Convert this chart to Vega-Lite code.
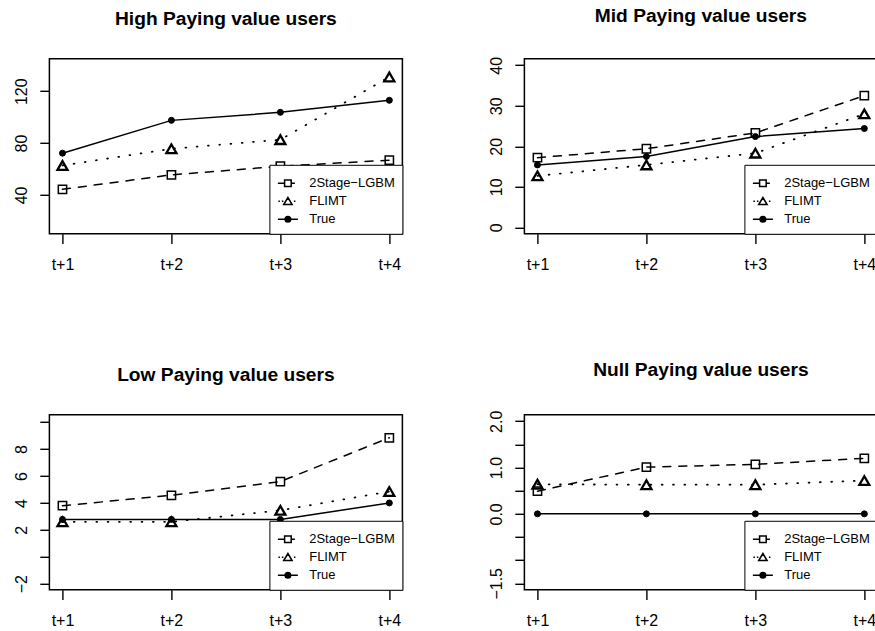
{
  "$schema": "https://vega.github.io/schema/vega-lite/v6.json",
  "background": "white",
  "autosize": {"type": "pad"},
  "padding": {"left": 11.4, "top": 5.8, "right": 0, "bottom": 0},
  "config": {
    "view": {"stroke": "black", "strokeWidth": 1.5},
    "font": "Liberation Sans",
    "title": {"font": "Liberation Sans", "fontSize": 19.2, "fontWeight": "bold", "color": "black", "anchor": "middle", "frame": "group", "baseline": "alphabetic", "offset": 29.7},
    "axis": {"domain": false, "grid": false, "ticks": true, "tickColor": "black", "tickWidth": 1.4, "tickSize": 9.6, "labelFont": "Liberation Sans", "labelFontSize": 16, "labelColor": "black", "title": null, "labelOverlap": false, "labelFlush": false},
    "legend": {
      "orient": "bottom-right", "offset": 0, "strokeColor": "black", "fillColor": "white", "padding": 7.5,
      "labelFont": "Liberation Sans", "labelFontSize": 13, "labelColor": "black", "labelOffset": 10.3,
      "rowPadding": -2.8, "symbolSize": 400, "symbolStrokeColor": "black", "symbolStrokeWidth": 1.5, "symbolOpacity": 1,
      "cornerRadius": 0
    }
  },
  "data": {"values": [
    {"panel": "High", "series": "2Stage−LGBM", "step": "t+1", "value": 44.3},
    {"panel": "High", "series": "2Stage−LGBM", "step": "t+2", "value": 55.5},
    {"panel": "High", "series": "2Stage−LGBM", "step": "t+3", "value": 62.1},
    {"panel": "High", "series": "2Stage−LGBM", "step": "t+4", "value": 66.8},
    {"panel": "High", "series": "FLIMT", "step": "t+1", "value": 62.7},
    {"panel": "High", "series": "FLIMT", "step": "t+2", "value": 75.6},
    {"panel": "High", "series": "FLIMT", "step": "t+3", "value": 82.6},
    {"panel": "High", "series": "FLIMT", "step": "t+4", "value": 131.0},
    {"panel": "High", "series": "True", "step": "t+1", "value": 72.2},
    {"panel": "High", "series": "True", "step": "t+2", "value": 97.5},
    {"panel": "High", "series": "True", "step": "t+3", "value": 103.7},
    {"panel": "High", "series": "True", "step": "t+4", "value": 113.0},
    {"panel": "Mid", "series": "2Stage−LGBM", "step": "t+1", "value": 17.2},
    {"panel": "Mid", "series": "2Stage−LGBM", "step": "t+2", "value": 19.4},
    {"panel": "Mid", "series": "2Stage−LGBM", "step": "t+3", "value": 23.3},
    {"panel": "Mid", "series": "2Stage−LGBM", "step": "t+4", "value": 32.5},
    {"panel": "Mid", "series": "FLIMT", "step": "t+1", "value": 12.7},
    {"panel": "Mid", "series": "FLIMT", "step": "t+2", "value": 15.4},
    {"panel": "Mid", "series": "FLIMT", "step": "t+3", "value": 18.3},
    {"panel": "Mid", "series": "FLIMT", "step": "t+4", "value": 28.0},
    {"panel": "Mid", "series": "True", "step": "t+1", "value": 15.4},
    {"panel": "Mid", "series": "True", "step": "t+2", "value": 17.5},
    {"panel": "Mid", "series": "True", "step": "t+3", "value": 22.4},
    {"panel": "Mid", "series": "True", "step": "t+4", "value": 24.4},
    {"panel": "Low", "series": "2Stage−LGBM", "step": "t+1", "value": 3.8},
    {"panel": "Low", "series": "2Stage−LGBM", "step": "t+2", "value": 4.57},
    {"panel": "Low", "series": "2Stage−LGBM", "step": "t+3", "value": 5.59},
    {"panel": "Low", "series": "2Stage−LGBM", "step": "t+4", "value": 8.84},
    {"panel": "Low", "series": "FLIMT", "step": "t+1", "value": 2.6},
    {"panel": "Low", "series": "FLIMT", "step": "t+2", "value": 2.6},
    {"panel": "Low", "series": "FLIMT", "step": "t+3", "value": 3.45},
    {"panel": "Low", "series": "FLIMT", "step": "t+4", "value": 4.85},
    {"panel": "Low", "series": "True", "step": "t+1", "value": 2.78},
    {"panel": "Low", "series": "True", "step": "t+2", "value": 2.78},
    {"panel": "Low", "series": "True", "step": "t+3", "value": 2.78},
    {"panel": "Low", "series": "True", "step": "t+4", "value": 4.0},
    {"panel": "Null", "series": "2Stage−LGBM", "step": "t+1", "value": 0.49},
    {"panel": "Null", "series": "2Stage−LGBM", "step": "t+2", "value": 1.01},
    {"panel": "Null", "series": "2Stage−LGBM", "step": "t+3", "value": 1.07},
    {"panel": "Null", "series": "2Stage−LGBM", "step": "t+4", "value": 1.2},
    {"panel": "Null", "series": "FLIMT", "step": "t+1", "value": 0.64},
    {"panel": "Null", "series": "FLIMT", "step": "t+2", "value": 0.63},
    {"panel": "Null", "series": "FLIMT", "step": "t+3", "value": 0.63},
    {"panel": "Null", "series": "FLIMT", "step": "t+4", "value": 0.72},
    {"panel": "Null", "series": "True", "step": "t+1", "value": 0},
    {"panel": "Null", "series": "True", "step": "t+2", "value": 0},
    {"panel": "Null", "series": "True", "step": "t+3", "value": 0},
    {"panel": "Null", "series": "True", "step": "t+4", "value": 0}
  ]},
  "columns": 2,
  "spacing": {"row": 181, "column": 122},
  "bounds": "flush",
  "resolve": {
    "scale": {"x": "independent", "y": "independent", "shape": "independent", "fill": "independent", "stroke": "independent"},
    "legend": {"shape": "independent", "fill": "independent", "stroke": "independent"},
    "axis": {"x": "independent", "y": "independent"}
  },
  "concat": [
    {
      "title": "High Paying value users",
      "width": 353, "height": 175,
      "transform": [{"filter": "datum.panel === 'High'"}],
      "encoding": {
        "x": {"field": "step", "type": "ordinal", "scale": {"type": "point", "padding": 0.12}, "axis": {"labelAngle": 0, "labelPadding": 13}},
        "y": {"field": "value", "type": "quantitative", "scale": {"domain": [10, 145], "zero": false, "nice": false}, "axis": {"values": [40, 80, 120], "labelAngle": 270, "labelAlign": "center", "labelBaseline": "bottom", "labelPadding": 10.7}}
      },
      "layer": [
        {"transform": [{"filter": "datum.series === '2Stage−LGBM'"}], "mark": {"type": "line", "stroke": "black", "strokeWidth": 1.5, "strokeCap": "round", "strokeDash": [8, 8]}, "encoding": {}},
        {"transform": [{"filter": "datum.series === 'FLIMT'"}], "mark": {"type": "line", "stroke": "black", "strokeWidth": 1.8, "strokeCap": "round", "strokeDash": [0.8, 10.5]}, "encoding": {}},
        {"transform": [{"filter": "datum.series === 'True'"}], "mark": {"type": "line", "stroke": "black", "strokeWidth": 1.5}, "encoding": {}},
        {"transform": [{"filter": "datum.series === '2Stage−LGBM'"}], "mark": {"type": "point", "shape": "square", "size": 69, "filled": false, "stroke": "black", "strokeWidth": 1.5, "opacity": 1}},
        {"transform": [{"filter": "datum.series === 'FLIMT'"}], "mark": {"type": "point", "shape": "triangle-up", "size": 100, "filled": false, "stroke": "black", "strokeWidth": 2.3, "opacity": 1}},
        {"transform": [{"filter": "datum.series === 'True'"}], "mark": {"type": "point", "shape": "circle", "size": 36, "filled": true, "fill": "black", "stroke": "black", "strokeWidth": 1, "opacity": 1}},
        {"transform": [{"filter": "false"}], "mark": {"type": "point", "strokeWidth": 1.5},
         "encoding": {
           "shape": {"field": "series", "type": "nominal", "legend": {"title": null}, "scale": {"domain": ["2Stage−LGBM", "FLIMT", "True"], "range": ["M-1,0H-0.33M0.33,0H0.7M-0.33,-0.33H0.33V0.33H-0.33Z", "M-0.95,0H-0.8M-0.6,0H-0.45M0.6,0H0.75M0,-0.38L0.42,0.32L-0.42,0.32Z", "M-1,0H1M0.28,0A0.28,0.28,0,1,1,-0.28,0A0.28,0.28,0,1,1,0.28,0Z"]}},
           "fill": {"field": "series", "type": "nominal", "legend": {"title": null}, "scale": {"domain": ["2Stage−LGBM", "FLIMT", "True"], "range": ["transparent", "transparent", "black"]}},
           "stroke": {"field": "series", "type": "nominal", "legend": {"title": null}, "scale": {"domain": ["2Stage−LGBM", "FLIMT", "True"], "range": ["black", "black", "black"]}}
         }}
      ]
    },
    {
      "title": "Mid Paying value users",
      "width": 353, "height": 175,
      "transform": [{"filter": "datum.panel === 'Mid'"}],
      "encoding": {
        "x": {"field": "step", "type": "ordinal", "scale": {"type": "point", "padding": 0.12}, "axis": {"labelAngle": 0, "labelPadding": 13}},
        "y": {"field": "value", "type": "quantitative", "scale": {"domain": [-1.6, 41.6], "zero": false, "nice": false}, "axis": {"values": [0, 10, 20, 30, 40], "labelAngle": 270, "labelAlign": "center", "labelBaseline": "bottom", "labelPadding": 10.7}}
      },
      "layer": [
        {"transform": [{"filter": "datum.series === '2Stage−LGBM'"}], "mark": {"type": "line", "stroke": "black", "strokeWidth": 1.5, "strokeCap": "round", "strokeDash": [8, 8]}, "encoding": {}},
        {"transform": [{"filter": "datum.series === 'FLIMT'"}], "mark": {"type": "line", "stroke": "black", "strokeWidth": 1.8, "strokeCap": "round", "strokeDash": [0.8, 10.5]}, "encoding": {}},
        {"transform": [{"filter": "datum.series === 'True'"}], "mark": {"type": "line", "stroke": "black", "strokeWidth": 1.5}, "encoding": {}},
        {"transform": [{"filter": "datum.series === '2Stage−LGBM'"}], "mark": {"type": "point", "shape": "square", "size": 69, "filled": false, "stroke": "black", "strokeWidth": 1.5, "opacity": 1}},
        {"transform": [{"filter": "datum.series === 'FLIMT'"}], "mark": {"type": "point", "shape": "triangle-up", "size": 100, "filled": false, "stroke": "black", "strokeWidth": 2.3, "opacity": 1}},
        {"transform": [{"filter": "datum.series === 'True'"}], "mark": {"type": "point", "shape": "circle", "size": 36, "filled": true, "fill": "black", "stroke": "black", "strokeWidth": 1, "opacity": 1}},
        {"transform": [{"filter": "false"}], "mark": {"type": "point", "strokeWidth": 1.5},
         "encoding": {
           "shape": {"field": "series", "type": "nominal", "legend": {"title": null}, "scale": {"domain": ["2Stage−LGBM", "FLIMT", "True"], "range": ["M-1,0H-0.33M0.33,0H0.7M-0.33,-0.33H0.33V0.33H-0.33Z", "M-0.95,0H-0.8M-0.6,0H-0.45M0.6,0H0.75M0,-0.38L0.42,0.32L-0.42,0.32Z", "M-1,0H1M0.28,0A0.28,0.28,0,1,1,-0.28,0A0.28,0.28,0,1,1,0.28,0Z"]}},
           "fill": {"field": "series", "type": "nominal", "legend": {"title": null}, "scale": {"domain": ["2Stage−LGBM", "FLIMT", "True"], "range": ["transparent", "transparent", "black"]}},
           "stroke": {"field": "series", "type": "nominal", "legend": {"title": null}, "scale": {"domain": ["2Stage−LGBM", "FLIMT", "True"], "range": ["black", "black", "black"]}}
         }}
      ]
    },
    {
      "title": "Low Paying value users",
      "width": 353, "height": 175,
      "transform": [{"filter": "datum.panel === 'Low'"}],
      "encoding": {
        "x": {"field": "step", "type": "ordinal", "scale": {"type": "point", "padding": 0.12}, "axis": {"labelAngle": 0, "labelPadding": 13}},
        "y": {"field": "value", "type": "quantitative", "scale": {"domain": [-2.45, 10.55], "zero": false, "nice": false}, "axis": {"values": [-2, 0, 2, 4, 6, 8, 10], "labelExpr": "datum.value == -2 ? '−2' : (datum.value == 0 || datum.value == 10) ? '' : datum.label", "labelAngle": 270, "labelAlign": "center", "labelBaseline": "bottom", "labelPadding": 10.7}}
      },
      "layer": [
        {"transform": [{"filter": "datum.series === '2Stage−LGBM'"}], "mark": {"type": "line", "stroke": "black", "strokeWidth": 1.5, "strokeCap": "round", "strokeDash": [8, 8]}, "encoding": {}},
        {"transform": [{"filter": "datum.series === 'FLIMT'"}], "mark": {"type": "line", "stroke": "black", "strokeWidth": 1.8, "strokeCap": "round", "strokeDash": [0.8, 10.5]}, "encoding": {}},
        {"transform": [{"filter": "datum.series === 'True'"}], "mark": {"type": "line", "stroke": "black", "strokeWidth": 1.5}, "encoding": {}},
        {"transform": [{"filter": "datum.series === '2Stage−LGBM'"}], "mark": {"type": "point", "shape": "square", "size": 69, "filled": false, "stroke": "black", "strokeWidth": 1.5, "opacity": 1}},
        {"transform": [{"filter": "datum.series === 'FLIMT'"}], "mark": {"type": "point", "shape": "triangle-up", "size": 100, "filled": false, "stroke": "black", "strokeWidth": 2.3, "opacity": 1}},
        {"transform": [{"filter": "datum.series === 'True'"}], "mark": {"type": "point", "shape": "circle", "size": 36, "filled": true, "fill": "black", "stroke": "black", "strokeWidth": 1, "opacity": 1}},
        {"transform": [{"filter": "false"}], "mark": {"type": "point", "strokeWidth": 1.5},
         "encoding": {
           "shape": {"field": "series", "type": "nominal", "legend": {"title": null}, "scale": {"domain": ["2Stage−LGBM", "FLIMT", "True"], "range": ["M-1,0H-0.33M0.33,0H0.7M-0.33,-0.33H0.33V0.33H-0.33Z", "M-0.95,0H-0.8M-0.6,0H-0.45M0.6,0H0.75M0,-0.38L0.42,0.32L-0.42,0.32Z", "M-1,0H1M0.28,0A0.28,0.28,0,1,1,-0.28,0A0.28,0.28,0,1,1,0.28,0Z"]}},
           "fill": {"field": "series", "type": "nominal", "legend": {"title": null}, "scale": {"domain": ["2Stage−LGBM", "FLIMT", "True"], "range": ["transparent", "transparent", "black"]}},
           "stroke": {"field": "series", "type": "nominal", "legend": {"title": null}, "scale": {"domain": ["2Stage−LGBM", "FLIMT", "True"], "range": ["black", "black", "black"]}}
         }}
      ]
    },
    {
      "title": "Null Paying value users",
      "width": 353, "height": 175,
      "transform": [{"filter": "datum.panel === 'Null'"}],
      "encoding": {
        "x": {"field": "step", "type": "ordinal", "scale": {"type": "point", "padding": 0.12}, "axis": {"labelAngle": 0, "labelPadding": 13}},
        "y": {"field": "value", "type": "quantitative", "scale": {"domain": [-1.64, 2.14], "zero": false, "nice": false}, "axis": {"values": [-1.5, -1, -0.5, 0, 0.5, 1, 1.5, 2], "labelExpr": "datum.value == -1.5 ? '−1.5' : datum.value == 0 ? '0.0' : datum.value == 1 ? '1.0' : datum.value == 2 ? '2.0' : ''", "labelAngle": 270, "labelAlign": "center", "labelBaseline": "bottom", "labelPadding": 10.7}}
      },
      "layer": [
        {"transform": [{"filter": "datum.series === '2Stage−LGBM'"}], "mark": {"type": "line", "stroke": "black", "strokeWidth": 1.5, "strokeCap": "round", "strokeDash": [8, 8]}, "encoding": {}},
        {"transform": [{"filter": "datum.series === 'FLIMT'"}], "mark": {"type": "line", "stroke": "black", "strokeWidth": 1.8, "strokeCap": "round", "strokeDash": [0.8, 10.5]}, "encoding": {}},
        {"transform": [{"filter": "datum.series === 'True'"}], "mark": {"type": "line", "stroke": "black", "strokeWidth": 1.5}, "encoding": {}},
        {"transform": [{"filter": "datum.series === '2Stage−LGBM'"}], "mark": {"type": "point", "shape": "square", "size": 69, "filled": false, "stroke": "black", "strokeWidth": 1.5, "opacity": 1}},
        {"transform": [{"filter": "datum.series === 'FLIMT'"}], "mark": {"type": "point", "shape": "triangle-up", "size": 100, "filled": false, "stroke": "black", "strokeWidth": 2.3, "opacity": 1}},
        {"transform": [{"filter": "datum.series === 'True'"}], "mark": {"type": "point", "shape": "circle", "size": 36, "filled": true, "fill": "black", "stroke": "black", "strokeWidth": 1, "opacity": 1}},
        {"transform": [{"filter": "false"}], "mark": {"type": "point", "strokeWidth": 1.5},
         "encoding": {
           "shape": {"field": "series", "type": "nominal", "legend": {"title": null}, "scale": {"domain": ["2Stage−LGBM", "FLIMT", "True"], "range": ["M-1,0H-0.33M0.33,0H0.7M-0.33,-0.33H0.33V0.33H-0.33Z", "M-0.95,0H-0.8M-0.6,0H-0.45M0.6,0H0.75M0,-0.38L0.42,0.32L-0.42,0.32Z", "M-1,0H1M0.28,0A0.28,0.28,0,1,1,-0.28,0A0.28,0.28,0,1,1,0.28,0Z"]}},
           "fill": {"field": "series", "type": "nominal", "legend": {"title": null}, "scale": {"domain": ["2Stage−LGBM", "FLIMT", "True"], "range": ["transparent", "transparent", "black"]}},
           "stroke": {"field": "series", "type": "nominal", "legend": {"title": null}, "scale": {"domain": ["2Stage−LGBM", "FLIMT", "True"], "range": ["black", "black", "black"]}}
         }}
      ]
    }
  ]
}
